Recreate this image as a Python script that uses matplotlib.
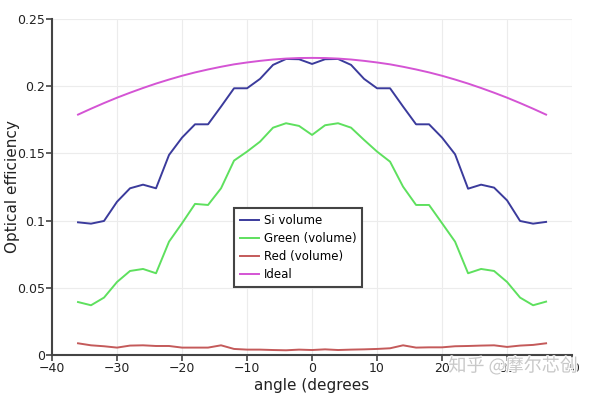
import matplotlib
matplotlib.use("Agg")
import matplotlib.pyplot as plt
import matplotlib.patheffects as pe

angles = [-36, -34, -32, -30, -28, -26, -24, -22, -20, -18, -16, -14, -12, -10, -8, -6, -4, -2,
          0, 2, 4, 6, 8, 10, 12, 14, 16, 18, 20, 22, 24, 26, 28, 30, 32, 34, 36]

si_volume = [0.0987, 0.0977, 0.0997, 0.1140, 0.1240, 0.1267, 0.1240, 0.1488, 0.1617, 0.1716,
             0.1716, 0.1848, 0.1984, 0.1984, 0.2054, 0.2158, 0.2202, 0.2200,
             0.2165, 0.2200, 0.2202, 0.2158, 0.2054, 0.1984, 0.1984, 0.1848, 0.1716, 0.1716,
             0.1617, 0.1493, 0.1237, 0.1267, 0.1245, 0.1150, 0.0997, 0.0977, 0.0990]

green_volume = [0.0394, 0.0370, 0.0427, 0.0543, 0.0625, 0.0640, 0.0608, 0.0843, 0.0980, 0.1124,
                0.1116, 0.1240, 0.1446, 0.1513, 0.1587, 0.1691, 0.1724, 0.1704,
                0.1637, 0.1709, 0.1724, 0.1691, 0.1600, 0.1513, 0.1438, 0.1252, 0.1116, 0.1116,
                0.0980, 0.0843, 0.0608, 0.0640, 0.0625, 0.0543, 0.0427, 0.0370, 0.0397]

red_volume = [0.0087, 0.0072, 0.0065, 0.0055, 0.0070, 0.0072, 0.0067, 0.0067, 0.0055, 0.0055,
              0.0055, 0.0072, 0.0045, 0.0040, 0.0040, 0.0037, 0.0035, 0.0040,
              0.0037, 0.0042, 0.0037, 0.0040, 0.0042, 0.0045, 0.0050, 0.0072, 0.0055, 0.0057,
              0.0057, 0.0065, 0.0067, 0.0070, 0.0072, 0.0060, 0.0070, 0.0075, 0.0087]

ideal = [0.1788, 0.1832, 0.1874, 0.1914, 0.1951, 0.1986, 0.2019, 0.2049, 0.2077, 0.2102,
         0.2124, 0.2144, 0.2162, 0.2176, 0.2188, 0.2198, 0.2205, 0.2209,
         0.2210, 0.2209, 0.2205, 0.2198, 0.2188, 0.2176, 0.2162, 0.2144, 0.2124, 0.2102,
         0.2077, 0.2049, 0.2019, 0.1986, 0.1951, 0.1914, 0.1874, 0.1832, 0.1788]

x_ticks = [-40, -30, -20, -10, 0, 10, 20, 30, 40]
y_ticks = [0, 0.05, 0.1, 0.15, 0.2, 0.25]
y_tick_labels = ["0", "0.05", "0.1", "0.15", "0.2", "0.25"]

plt.rcParams['font.family'] = ['DejaVu Sans']

fig = plt.figure(figsize=(5.91, 3.94), dpi=100)
ax = fig.add_axes([0.088, 0.099, 0.880, 0.853])

ax.plot(angles, si_volume, color="#3b3b9c", lw=1.4, label="Si volume")
ax.plot(angles, green_volume, color="#5ee05e", lw=1.4, label="Green (volume)")
ax.plot(angles, red_volume, color="#c45a5a", lw=1.4, label="Red (volume)")
ax.plot(angles, ideal, color="#d454d4", lw=1.4, label="Ideal")

ax.set_xlim(-40, 40)
ax.set_ylim(0, 0.25)
ax.set_xticks(x_ticks)
ax.set_yticks(y_ticks)
ax.set_yticklabels(y_tick_labels)
ax.grid(True, color="#ececec", lw=0.8)
ax.set_axisbelow(True)

for s in ["top", "right"]:
    ax.spines[s].set_visible(False)
for s in ["left", "bottom"]:
    ax.spines[s].set_color("#444444")
    ax.spines[s].set_linewidth(1.5)
ax.tick_params(axis="both", direction="out", length=4, width=1.2, color="#444444",
               labelsize=9, labelcolor="#222222", pad=1)

ax.set_xlabel("angle (degrees", fontsize=11, color="#222222", labelpad=2)
ax.set_ylabel("Optical efficiency", fontsize=11, color="#222222")
ax.yaxis.set_label_coords(-0.062, 0.5)

leg = ax.legend(loc="upper left", bbox_to_anchor=(234 / 591, 1 - 208 / 394),
                bbox_transform=fig.transFigure, fontsize=8.5, frameon=True, fancybox=False,
                handlelength=1.6, handletextpad=0.4, borderpad=0.5, labelspacing=0.42,
                borderaxespad=0)
leg.get_frame().set_edgecolor("#444444")
leg.get_frame().set_linewidth(1.5)
leg.get_frame().set_alpha(1)

wm = fig.text(0.977, 1 - 366 / 394, "知乎 @摩尔芯创", fontsize=13, color="#c8c8c8",
              ha="right", va="center", family=["Noto Sans CJK SC", "DejaVu Sans"])
wm.set_path_effects([pe.withStroke(linewidth=1.5, foreground="white")])

fig.savefig("out.png", dpi=100)
